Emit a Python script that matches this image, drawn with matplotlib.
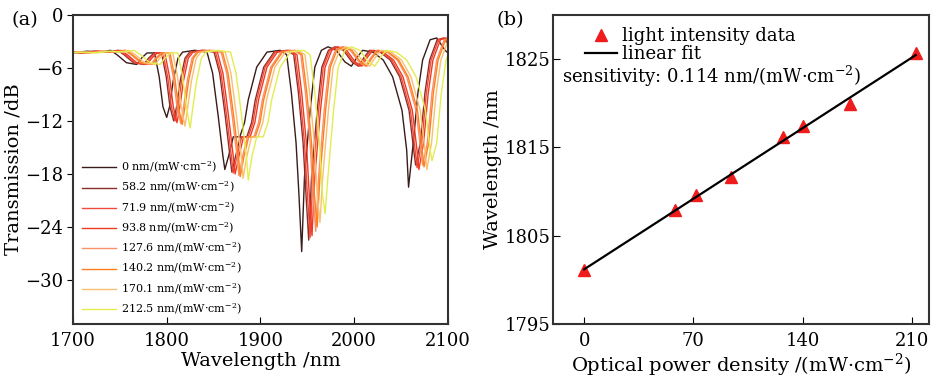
import numpy as np
import matplotlib
matplotlib.use("Agg")
import matplotlib.pyplot as plt

plt.rcParams['font.family'] = ['DejaVu Serif']
plt.rcParams['mathtext.fontset'] = 'dejavuserif'

# panel (a): spectrum of the 0 mW/cm2 curve
base_wl = [1670, 1690, 1700, 1715, 1730, 1740, 1747, 1757, 1768, 1773, 1779, 1787,
           1792, 1796, 1800, 1803, 1807, 1812, 1817, 1830, 1843, 1849, 1855, 1860,
           1862, 1866, 1871, 1878, 1883, 1887, 1896, 1907, 1921, 1928, 1933, 1938,
           1941, 1944, 1947, 1953, 1958, 1965, 1972, 1981, 1990, 1997, 2003, 2009,
           2020, 2031, 2041, 2051, 2056, 2058, 2063, 2068, 2073, 2081, 2088, 2097, 2100]
base_db = [-4.3, -4.2, -4.3, -4.1, -4.2, -4.0, -4.5, -5.4, -5.6, -4.9, -4.3, -4.3,
           -7.0, -10.4, -11.6, -10.4, -7.4, -4.9, -4.2, -4.0, -4.2, -6.6, -11.5, -16.0,
           -17.5, -16.0, -13.8, -13.8, -12.2, -9.6, -5.9, -4.2, -4.0, -4.5, -8.8, -14.5,
           -20.2, -26.8, -18.3, -10.8, -5.9, -4.0, -3.6, -4.0, -5.3, -5.8, -4.8, -4.0,
           -4.2, -5.1, -7.0, -10.8, -15.3, -19.5, -14.5, -8.8, -5.1, -2.8, -2.6, -4.0, -4.3]
dip_wl = [1800, 1862, 1944, 2058]

power_labels = ['0', '58.2', '71.9', '93.8', '127.6', '140.2', '170.1', '212.5']
curve_shift = [0, 7.5, 9, 11, 15, 16.5, 19.5, 25]
dip1 = [-11.6, -12.0, -12.0, -12.2, -12.3, -12.4, -12.6, -12.8]
dip2 = [-17.5, -17.8, -17.9, -18.0, -18.2, -18.3, -18.5, -18.7]
dip3 = [-26.8, -25.5, -25.2, -25.0, -24.5, -24.0, -23.5, -22.5]
dip4 = [-19.5, -17.0, -17.3, -17.5, -17.0, -17.2, -17.5, -16.5]
colors = ['#3a1c1a', '#8b2e2a', '#f04a3a', '#ee3a1e', '#f8906a', '#ff7e1e', '#f8c070', '#e2ee4e']

# panel (b)
power = [0, 58.2, 71.9, 93.8, 127.6, 140.2, 170.1, 212.5]
peak_wl = [1801.1, 1807.9, 1809.6, 1811.6, 1816.2, 1817.4, 1819.9, 1825.7]

fig = plt.figure(figsize=(9.33, 3.79), dpi=100)
axa = fig.add_axes([0.0782, 0.1451, 0.4019, 0.8153])
axb = fig.add_axes([0.5927, 0.1451, 0.4030, 0.8153])

for i in range(len(power_labels)):
    wl = np.array(base_wl) + curve_shift[i]
    db = np.array(base_db)
    for d, depth in zip(dip_wl, [dip1[i], dip2[i], dip3[i], dip4[i]]):
        db[base_wl.index(d)] = depth
    axa.plot(wl, db, color=colors[i], lw=1.0,
             label=power_labels[i] + ' nm/(mW·cm$^{-2}$)')

axa.set_xlim(1700, 2100)
axa.set_ylim(-35, 0)
axa.set_xticks([1700, 1800, 1900, 2000, 2100])
axa.set_yticks([0, -6, -12, -18, -24, -30])
axa.set_yticklabels(['0', '−6', '−12', '−18', '−24', '−30'])
axa.tick_params(axis='x', direction='in', labelsize=13, length=5, pad=6)
axa.tick_params(axis='y', direction='out', labelsize=13, length=4, pad=3)
axa.set_xlabel('Wavelength /nm', fontsize=14, labelpad=1)
axa.set_ylabel('Transmission /dB', fontsize=14, labelpad=2)
axa.legend(loc='upper left', bbox_to_anchor=(0.01, 0.55), frameon=False, fontsize=8,
           handlelength=3.0, handletextpad=0.5, labelspacing=0.45, borderpad=0)
axa.text(-0.165, 0.985, '(a)', transform=axa.transAxes, fontsize=14, va='center')

fit = np.polyfit(power, peak_wl, 1)
xfit = np.array([power[0], power[-1]])
axb.plot(power, peak_wl, '^', color='#ee1c1c', ms=8, label='light intensity data')
axb.plot(xfit, np.polyval(fit, xfit), color='black', lw=1.6, label='linear fit')
axb.set_xlim(-20, 221)
axb.set_ylim(1795, 1830)
axb.set_xticks([0, 70, 140, 210])
axb.set_yticks([1795, 1805, 1815, 1825])
axb.tick_params(direction='in', labelsize=13, length=5)
axb.tick_params(axis='x', pad=6)
axb.tick_params(axis='y', pad=2)
axb.set_xlabel('Optical power density /(mW·cm$^{-2}$)', fontsize=14, labelpad=1)
axb.set_ylabel('Wavelength /nm', fontsize=14, labelpad=2)
axb.legend(loc='upper left', bbox_to_anchor=(0.06, 0.99), frameon=False, fontsize=13,
           handlelength=1.8, handletextpad=0.3, labelspacing=0.0, borderpad=0)
axb.text(0.025, 0.80, 'sensitivity: 0.114 nm/(mW·cm$^{-2}$)', transform=axb.transAxes,
         fontsize=13, va='center')
axb.text(-0.15, 0.985, '(b)', transform=axb.transAxes, fontsize=14, va='center')

for ax in (axa, axb):
    for s in ax.spines.values():
        s.set_linewidth(1.5)
        s.set_color('#333333')

fig.savefig('out.png', dpi=100)
